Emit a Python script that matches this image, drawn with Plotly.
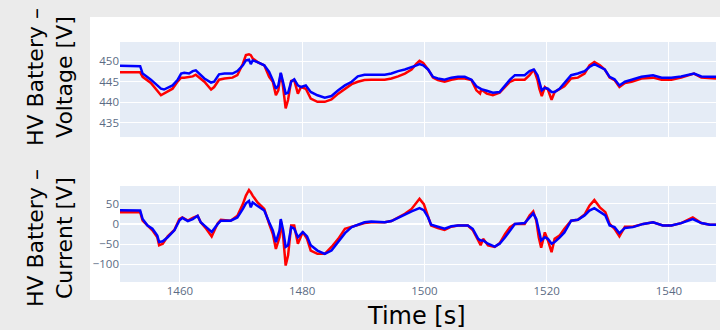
import plotly.graph_objects as go
from plotly.subplots import make_subplots

# Time stamps [s] and HV battery voltage [V] for the two signals
t_voltage = [
    1450.2, 1453.5, 1453.9, 1455.25, 1456.9, 1457.4, 1458.8, 1459.6, 1460.2, 1460.7,
    1461.5, 1462.1, 1462.6, 1463.2, 1464.0, 1465.1, 1465.6, 1466.4, 1467.3, 1468.6,
    1469.4, 1470.3, 1470.8, 1471.3, 1471.6, 1471.9, 1472.7, 1473.8, 1474.6, 1475.2,
    1475.7, 1476.1, 1476.5, 1476.8, 1477.3, 1477.7, 1478.2, 1478.7, 1479.3, 1479.8,
    1480.6, 1481.4, 1482.5, 1483.7, 1484.8, 1485.9, 1487.0, 1488.1, 1489.1, 1490.2,
    1491.3, 1492.4, 1493.5, 1494.6, 1495.7, 1496.8, 1497.9, 1498.7, 1499.2, 1499.8,
    1500.6, 1501.4, 1502.2, 1503.3, 1504.4, 1505.5, 1506.6, 1507.7, 1508.5, 1509.1,
    1509.3, 1510.2, 1511.2, 1512.3, 1513.2, 1514.0, 1514.8, 1516.4, 1517.2, 1517.9,
    1518.5, 1518.8, 1519.2, 1519.7, 1520.2, 1520.8, 1521.3, 1522.1, 1522.9, 1524.0,
    1525.1, 1526.2, 1527.0, 1527.8, 1528.7, 1529.5, 1530.3, 1531.1, 1531.9, 1532.8,
    1533.9, 1535.5, 1537.4, 1538.8, 1540.4, 1542.0, 1544.1, 1545.3, 1546.7, 1547.7,
]
voltage_red = [
    447.3, 447.3, 446.2, 444.7, 441.7, 442.1, 443.3, 445.0, 446.0, 446.0,
    446.2, 446.3, 446.7, 446.0, 445.0, 443.1, 443.7, 445.5, 445.8, 446.0,
    446.6, 449.4, 451.5, 451.7, 451.5, 450.7, 449.8, 449.0, 446.2, 445.0,
    441.7, 442.9, 447.0, 444.6, 438.5, 440.6, 445.2, 445.4, 442.1, 443.7,
    443.3, 440.9, 440.1, 440.1, 440.7, 442.1, 443.3, 444.4, 445.0, 445.4,
    445.5, 445.5, 445.5, 445.8, 446.3, 447.0, 448.0, 449.4, 450.1, 449.6,
    448.0, 446.0, 445.4, 445.0, 445.5, 445.8, 445.8, 445.4, 442.9, 442.1,
    443.1, 442.1, 441.7, 442.3, 443.7, 445.0, 445.5, 445.5, 446.6, 448.0,
    445.4, 443.3, 441.5, 443.7, 443.1, 440.6, 442.5, 443.1, 443.9, 445.8,
    446.0, 447.0, 449.0, 449.8, 449.0, 448.0, 446.0, 445.4, 443.7, 444.7,
    445.0, 445.8, 446.0, 445.5, 445.5, 446.0, 447.0, 446.0, 445.8, 445.8,
]
voltage_blue = [
    448.9, 448.8, 447.0, 445.5, 443.3, 443.1, 444.1, 445.4, 447.0, 447.2,
    447.0, 447.6, 447.8, 447.0, 445.8, 444.8, 445.0, 446.8, 447.0, 447.0,
    447.6, 449.0, 450.2, 450.4, 449.3, 450.2, 449.8, 449.0, 447.4, 445.4,
    443.3, 444.1, 447.2, 445.4, 442.1, 442.3, 445.0, 445.6, 444.1, 443.7,
    444.1, 442.5, 441.7, 441.1, 441.5, 442.9, 444.1, 445.0, 446.3, 446.7,
    446.7, 446.7, 446.7, 447.0, 447.6, 448.0, 448.5, 449.0, 449.3, 449.0,
    448.0, 446.2, 445.8, 445.5, 446.0, 446.2, 446.2, 445.5, 443.9, 443.3,
    443.2, 442.8, 442.3, 442.5, 444.1, 445.5, 446.6, 446.6, 447.6, 448.0,
    446.6, 445.0, 442.9, 443.5, 443.3, 442.5, 442.5, 443.3, 444.6, 446.6,
    447.0, 447.6, 448.6, 449.3, 448.6, 448.0, 446.2, 445.6, 444.1, 445.0,
    445.5, 446.2, 446.6, 446.0, 446.0, 446.3, 447.0, 446.3, 446.2, 446.2,
]

# Time stamps [s] and HV battery current for the two signals
t_current = [
    1450.2, 1453.5, 1453.9, 1454.7, 1455.5, 1456.3, 1456.6, 1457.2, 1458.0, 1459.1,
    1459.9, 1460.4, 1461.3, 1462.1, 1462.9, 1463.4, 1464.3, 1465.2, 1466.2, 1466.7,
    1468.3, 1469.4, 1470.3, 1470.8, 1471.3, 1471.6, 1471.9, 1472.7, 1473.8, 1474.6,
    1475.2, 1475.7, 1476.3, 1476.5, 1476.9, 1477.3, 1477.7, 1478.2, 1478.7, 1479.3,
    1480.1, 1480.8, 1481.4, 1482.5, 1483.7, 1484.8, 1485.9, 1487.0, 1488.1, 1489.1,
    1490.2, 1491.3, 1493.5, 1494.6, 1495.7, 1496.8, 1497.9, 1498.7, 1499.2, 1499.9,
    1500.6, 1501.1, 1502.2, 1503.3, 1504.4, 1505.5, 1507.1, 1507.9, 1508.8, 1509.2,
    1509.6, 1510.4, 1511.5, 1512.3, 1513.2, 1514.0, 1514.8, 1516.4, 1517.2, 1517.8,
    1518.3, 1518.7, 1519.1, 1519.7, 1520.2, 1520.8, 1521.3, 1522.1, 1522.9, 1524.0,
    1525.1, 1526.2, 1527.0, 1527.8, 1528.7, 1529.6, 1530.3, 1531.1, 1531.9, 1532.8,
    1534.1, 1535.8, 1537.4, 1539.0, 1540.4, 1542.0, 1543.9, 1545.3, 1546.7, 1547.7,
]
current_red = [
    29, 29, 8, -4, -16, -33, -53, -49, -31, -15,
    12, 16, 8, 15, 20, 4, -12, -31, 2, 10,
    8, 20, 49, 70, 84, 78, 70, 53, 37, 0,
    -25, -62, -33, 8, -33, -103, -78, -4, -4, -49,
    -20, -37, -66, -74, -74, -57, -37, -12, -7, -4,
    2, 4, 4, 7, 16, 25, 37, 53, 62, 49,
    16, -4, -10, -15, -7, -4, -4, -15, -41, -53,
    -37, -53, -57, -48, -25, -8, 0, 0, 21, 31,
    8, -33, -59, -21, -41, -70, -37, -29, -12, 8,
    10, 23, 45, 59, 41, 29, 0, -12, -31, -7,
    -7, 0, 4, -4, -4, 2, 16, 2, -2, -2,
]
current_blue = [
    34, 33, 12, -4, -12, -29, -45, -43, -33, -16,
    8, 15, 7, 12, 20, 4, -8, -20, 0, 8,
    8, 16, 37, 51, 57, 41, 53, 45, 33, 4,
    -16, -45, -16, 12, -16, -57, -53, -8, -12, -33,
    -20, -31, -53, -66, -74, -66, -45, -23, -8, -2,
    4, 6, 4, 7, 16, 23, 31, 37, 39, 34,
    16, -2, -8, -12, -6, -4, -4, -12, -37, -41,
    -41, -49, -56, -49, -33, -16, 0, 2, 16, 26,
    12, -16, -41, -33, -37, -49, -45, -34, -21, 8,
    10, 21, 33, 39, 29, 21, -4, -8, -23, -10,
    -8, 0, 4, -4, -4, 2, 12, 2, -2, -2,
]

x_range = [1450.2, 1547.7]
voltage_range = [431.5, 454.7]
current_range = [-143.8, 93.8]

fig = make_subplots(rows=2, cols=1, shared_xaxes=True)

line_w = 2.5
fig.add_trace(go.Scatter(x=t_voltage, y=voltage_red, mode="lines",
                         line=dict(color="red", width=line_w)), row=1, col=1)
fig.add_trace(go.Scatter(x=t_voltage, y=voltage_blue, mode="lines",
                         line=dict(color="blue", width=line_w)), row=1, col=1)
fig.add_trace(go.Scatter(x=t_current, y=current_red, mode="lines",
                         line=dict(color="red", width=line_w)), row=2, col=1)
fig.add_trace(go.Scatter(x=t_current, y=current_blue, mode="lines",
                         line=dict(color="blue", width=line_w)), row=2, col=1)

tick_font = dict(family="Open Sans", size=11.5, color="#5b6b84")
title_font = dict(family="DejaVu Sans", size=22, color="black")

fig.update_xaxes(range=x_range, dtick=20, tickfont=tick_font)
fig.update_yaxes(tickfont=tick_font)
fig.update_layout(
    template="plotly",
    width=720, height=330,
    margin=dict(l=120, r=4, t=42, b=48),
    paper_bgcolor="white",
    showlegend=False,
    xaxis=dict(showticklabels=False),
    yaxis=dict(domain=[0.604, 1.0], range=voltage_range, dtick=5),
    yaxis2=dict(domain=[0.0, 0.4], range=current_range, dtick=50),
)

# grey surround outside the white chart card
grey = "#ebebeb"
for x0, x1, y0, y1 in [
    (-0.21, -0.0503, -0.21, 1.18),
    (-0.21, 1.01, 1.1042, 1.18),
    (-0.21, 1.01, -0.21, -0.075),
]:
    fig.add_shape(type="rect", xref="paper", yref="paper",
                  x0=x0, x1=x1, y0=y0, y1=y1,
                  fillcolor=grey, line=dict(width=0), layer="below")

fig.add_annotation(text="HV Battery –<br>Voltage [V]", textangle=-90,
                   xref="paper", yref="paper", x=-0.1174, y=0.854,
                   xanchor="center", yanchor="middle", showarrow=False,
                   font=title_font)
fig.add_annotation(text="HV Battery –<br>Current [V]", textangle=-90,
                   xref="paper", yref="paper", x=-0.1174, y=0.183,
                   xanchor="center", yanchor="middle", showarrow=False,
                   font=title_font)
fig.add_annotation(text="Time [s]", xref="paper", yref="paper",
                   x=0.497, y=-0.1417, xanchor="center", yanchor="middle",
                   showarrow=False, font=dict(family="DejaVu Sans", size=24, color="black"))

fig.write_html("out.html")
